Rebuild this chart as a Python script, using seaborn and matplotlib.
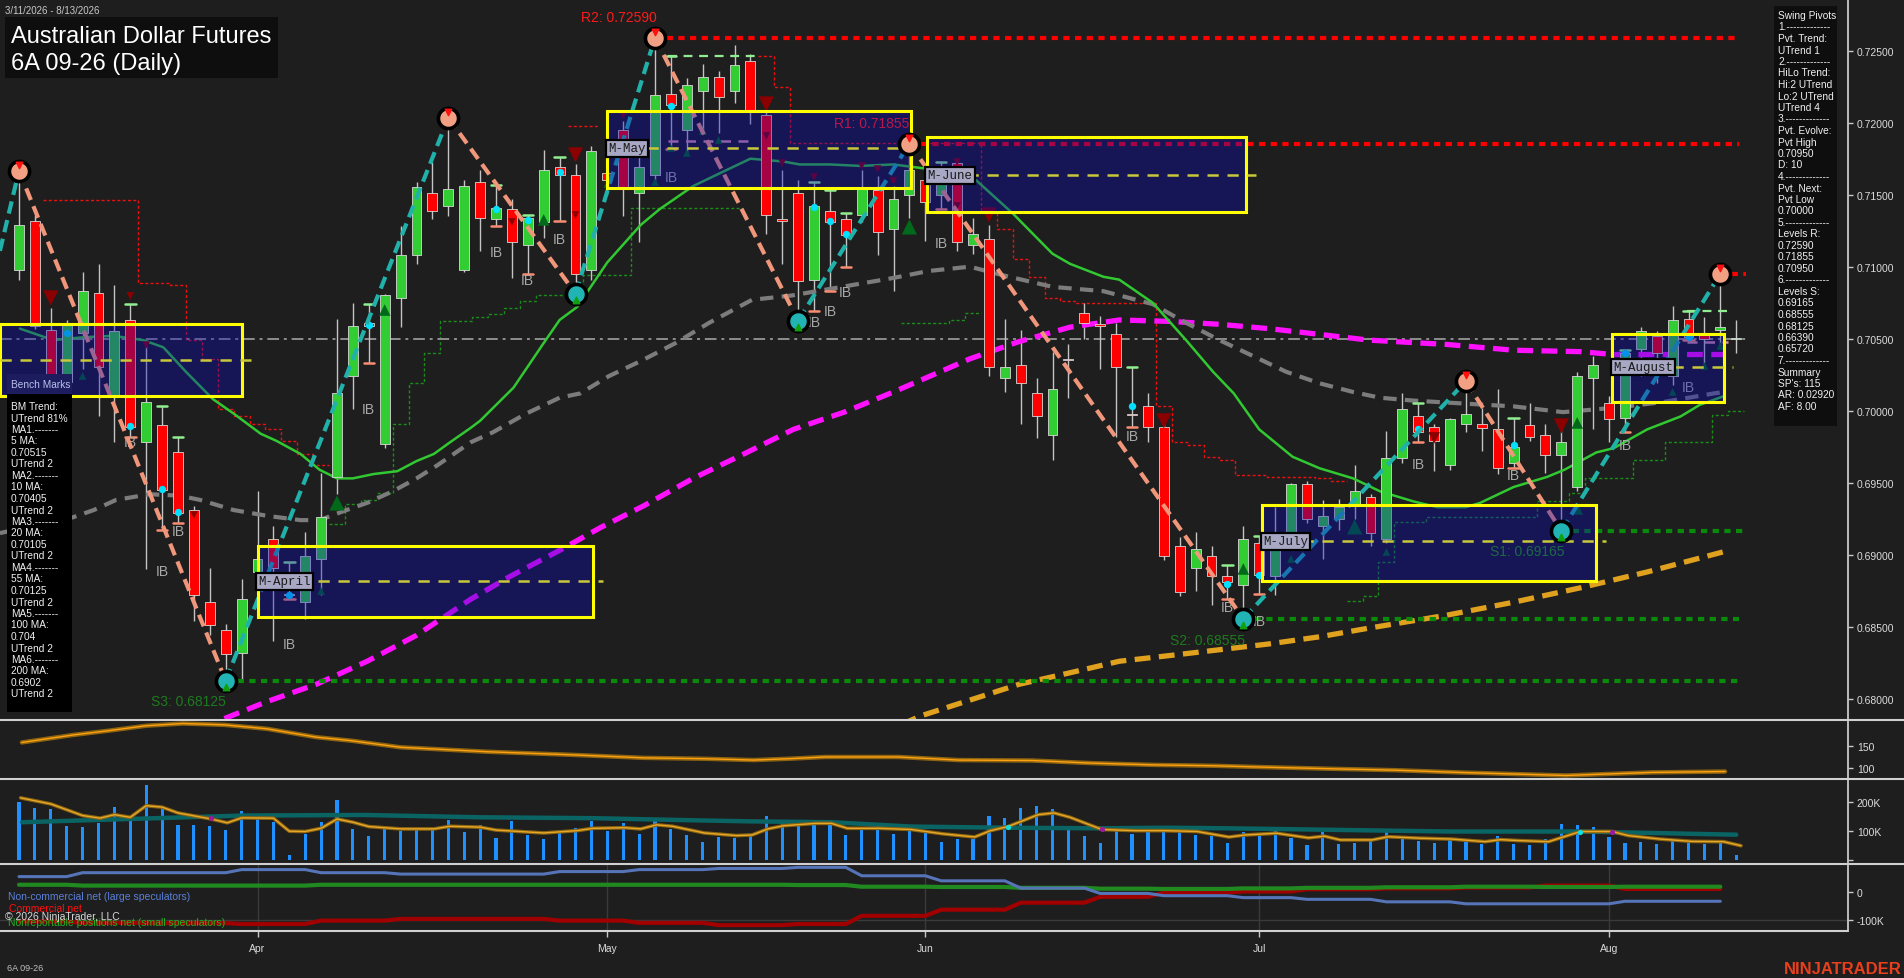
import numpy as np
import matplotlib
matplotlib.use("Agg")
import matplotlib.pyplot as plt
import seaborn as sns
from matplotlib.patches import Rectangle
from matplotlib.lines import Line2D

# ====================== DATA ======================
title_lines = ["Australian Dollar Futures", "6A 09-26 (Daily)"]
date_range_text = "3/11/2026 - 8/13/2026"
month_labels = ["Apr", "May", "Jun", "Jul", "Aug"]
month_idx = [15, 37, 57, 78, 100]
price_ticks = [0.680, 0.685, 0.690, 0.695, 0.700, 0.705, 0.710, 0.715, 0.720, 0.725]

opens = [.7098,.7132,.7056,.7020,.7054,.7082,.7010,.7063,.6978,.6990,
         .6971,.6931,.6867,.6848,.6832,.6888,.6911,.6873,.6867,.6897,
         .6954,.7024,.7061,.6977,.7078,.7108,.7151,.7142,.7098,.7159,
         .7133,.7140,.7115,.7131,.7169,.7164,.7098,.7165,.7195,.7151,
         .7164,.7220,.7195,.7222,.7232,.7222,.7243,.7205,.7133,.7151,
         .7091,.7139,.7133,.7136,.7153,.7126,.7150,.7160,.7150,.7172,
         .7115,.7119,.7023,.7032,.7012,.6983,.7036,.7068,.7060,.7053,
         .6998,.7003,.6989,.6906,.6891,.6899,.6885,.6879,.6908,.6885,
         .6916,.6949,.6920,.6925,.6934,.6940,.6911,.6967,.6996,.6989,
         .6962,.6991,.6991,.6987,.6964,.6990,.6983,.6969,.6947,.7023,
         .7005,.6995,.7043,.7052,.7024,.7064,.7054,.7056,.7050]
highs = [.7167,.7136,.7071,.7063,.7096,.7102,.7087,.7074,.7049,.7003,
         .6982,.6934,.6891,.6852,.6883,.6944,.6920,.6895,.6916,.6957,
         .7064,.7075,.7074,.7081,.7128,.7159,.7173,.72035,.7160,.7167,
         .7157,.7147,.7136,.7181,.7176,.7171,.7184,.7190,.7201,.7179,
         .72590,.7246,.7231,.7241,.7236,.7254,.7248,.7208,.7167,.7160,
         .7159,.7153,.7137,.7167,.7163,.7156,.71855,.7170,.7173,.7173,
         .7134,.7129,.7064,.7056,.7023,.7041,.7046,.7075,.7066,.7061,
         .7030,.7012,.6995,.6912,.6916,.6906,.6893,.6920,.6913,.6933,
         .6950,.6951,.6938,.6939,.6962,.6942,.6986,.7012,.7005,.6991,
         .6995,.70205,.7002,.7015,.6995,.7005,.6991,.6987,.7027,.7038,
         .7010,.7042,.7058,.7055,.7073,.7069,.7065,.70950,.7063]
lows = [.7091,.7057,.7000,.7005,.7029,.6996,.6978,.6982,.6890,.6917,
        .6922,.6854,.6844,.68125,.6813,.6885,.6840,.6869,.6855,.6872,
        .6942,.7001,.7033,.6974,.7058,.7102,.7133,.7135,.7096,.7111,
        .7128,.7092,.7095,.7120,.7132,.70813,.7091,.7150,.7135,.7117,
        .7159,.7182,.7179,.7193,.7193,.7214,.7199,.7123,.7102,.70625,
        .7069,.7083,.7100,.7131,.7108,.7083,.7134,.7118,.7140,.7111,
        .7109,.7024,.7013,.6991,.6981,.6966,.7009,.7050,.7029,.6982,
        .6989,.6978,.6896,.6871,.6875,.6865,.6869,.68555,.6873,.6872,
        .6912,.6922,.6897,.6917,.6925,.6906,.6908,.6964,.6978,.6958,
        .6959,.6985,.6972,.6956,.6960,.6979,.6957,.69165,.6944,.6987,
        .6978,.6985,.7024,.7019,.7018,.7049,.7033,.7043,.7040]
closes = [.7129,.7059,.7015,.7061,.7083,.7030,.7055,.6989,.7006,.6945,
          .6929,.6872,.6851,.6831,.6869,.6897,.6891,.6872,.6899,.6926,
          .7012,.7059,.7059,.7080,.7108,.7155,.7139,.7154,.7156,.7134,
          .7141,.7117,.7134,.7167,.7164,.7095,.7180,.7160,.7154,.7169,
          .7219,.7212,.7226,.7232,.7218,.7240,.7208,.7136,.7132,.7090,
          .7142,.7131,.7122,.7154,.7124,.7147,.7167,.7145,.7160,.7117,
          .7123,.7030,.7030,.7019,.6996,.7015,.7035,.7061,.7059,.7030,
          .6997,.6989,.6899,.6874,.6904,.6885,.6881,.6911,.6886,.6913,
          .6949,.6925,.6927,.6933,.6944,.6915,.6967,.7001,.6985,.6979,
          .6994,.6998,.6988,.6960,.6975,.6982,.6969,.6978,.7024,.7032,
          .6994,.7040,.7055,.7040,.7063,.7051,.7050,.7058,.7050]

# moving averages (bar index, price)
ma20_x = [0.06,2.16,4.05,5.93,7.82,9.08,10.5,12.2,13.5,15.2,16.2,17.7,18.9,20.0,21.0,22.3,23.8,25.0,26.1,27.1,28.4,
          29.0,31.1,33.0,34.0,35.1,37.0,39.1,40.3,42.4,44.1,46.0,48.1,49.1,51.0,52.9,55.0,57.1,
          58.8,60.2,62.5,65.0,66.1,68.2,69.2,71.3,73.4,75.1,76.4,78.0,80.1,81.8,83.9,
          85.6,87.7,89.2,91.0,91.9,94.0,96.1,97.2,98.2,99.2,100.3,102.4,104.5,105.7,107.2]
ma20_y = [.7057,.7049,.7051,.7052,.7049,.7044,.7027,.7008,.6998,.6984,.6979,.6970,.6959,.6953,.6953,.6956,.6958,.6965,.6970,.6978,.6988,
          .6993,.7016,.7047,.7063,.7072,.7103,.7129,.7140,.7156,.7165,.7175,.7173,.7171,.7171,.7170,.7171,.7168,
          .7165,.7160,.7137,.7109,.7102,.7093,.7091,.7075,.7049,.7027,.7012,.6987,.6968,.6960,.6953,
          .6944,.6937,.6933,.6933,.6936,.6947,.6954,.6959,.6965,.6971,.6974,.6987,.6996,.7004,.7010]
ma55_x = [-1.2,3.4,4.7,6.1,8.2,10.1,11.4,13.5,15.6,17.7,18.9,20.6,21.9,23.5,25.0,26.3,28.4,
          29.8,31.9,34.0,35.3,37.1,39.2,41.3,43.4,46.1,48.6,50.7,52.8,54.9,57.2,
          59.8,61.9,65.0,68.2,71.3,73.4,75.5,77.6,79.7,81.8,83.9,
          85.6,87.7,90.8,94.0,97.1,100.3,103.4,106.6,107.2]
ma55_y = [.6915,.6926,.6931,.6938,.6942,.6941,.6938,.6931,.6927,.6924,.6924,.6931,.6936,.6944,.6953,.6962,.6978,
          .6985,.6998,.7009,.7012,.7024,.7035,.7047,.7061,.7077,.7080,.7084,.7088,.7092,.7097,
          .7100,.7094,.7086,.7083,.7074,.7061,.7049,.7038,.7027,.7019,.7013,
          .7009,.7007,.7005,.7003,.6999,.7002,.7006,.7012,.7013]
ma100_x = [11.5,13.1,15.6,18.7,21.9,25.0,28.4,30.9,34.0,36.6,39.3,42.4,45.6,48.7,51.9,55.0,57.3,
           59.8,62.9,66.1,69.2,72.4,75.5,78.6,81.8,84.9,89.8,94.0,98.2,100.3,104.5,107.2]
ma100_y = [.6780,.6787,.6798,.6810,.6826,.6844,.6869,.6885,.6903,.6919,.6934,.6953,.6970,.6987,.6999,.7013,.7024,
           .7036,.7048,.7058,.7063,.7062,.7060,.7057,.7053,.7049,.7046,.7042,.7041,.7039,.7039,.7039]
ma200_x = [55.5,56.7,59.8,62.9,66.1,69.2,72.4,75.5,78.6,81.8,84.9,89.8,94.0,98.2,102.4,107.2]
ma200_y = [.6782,.6788,.6799,.6810,.6818,.6826,.6830,.6834,.6838,.6843,.6849,.6858,.6867,.6877,.6888,.6902]

# swing pivots
piv_idx = [0, 13, 27, 35, 40, 49, 56, 77, 91, 97, 107]
piv_px = [.71667, .68125, .72035, .70813, .72590, .70625, .71855, .68555, .70205, .69165, .70950]
lead_in = (-1.2, .7111)

# value-area boxes: start idx, end idx, top, bottom, mid, label
box_start = [-1.2, 15.0, 37.0, 57.1, 78.2, 100.2]
box_end = [14.0, 36.1, 56.1, 77.2, 99.2, 107.2]
box_top = [.70603, .69062, .72084, .71899, .69347, .70531]
box_bot = [.70101, .68566, .71548, .71381, .68820, .70060]
box_mid = [.70355, .68814, .71821, .71635, .69093, .70302]
box_label = ["", "M-April", "M-May", "M-June", "M-July", "M-August"]

# stop step lines (start bar, end bar, value)
red_stop_seg = [(2,7,.7146),(8,9,.7089),(10,10,.7087),(11,11,.7049),(12,12,.7036),(13,13,.7001),(14,14,.6996),
                (15,15,.6991),(16,16,.6987),(17,17,.6979),(18,18,.6970),(19,19,.6962),(35,36,.7198),
                (47,47,.7246),(48,48,.7225),(49,60,.7186),(61,61,.7138),(62,62,.7126),(63,63,.7105),(64,64,.7093),
                (65,65,.7078),(66,66,.7076),(67,71,.7075),(72,72,.7003),(73,73,.6978),(74,74,.6976),(75,75,.6968),
                (76,76,.6966),(77,78,.6955),(79,81,.6954),(82,82,.6953),(83,83,.6951)]
green_stop_seg = [(20,20,.6921),(21,21,.6935),(22,22,.6938),(23,23,.6943),(24,24,.6991),(25,25,.7019),(26,26,.7040),
                  (27,28,.7062),(29,29,.7065),(30,30,.7067),(31,31,.7071),(32,32,.7076),(33,35,.7080),(36,38,.7094),
                  (39,45,.7141),(56,58,.7061),(59,59,.7063),(60,60,.7068),(84,84,.6868),(85,85,.6871),(86,86,.6895),
                  (87,88,.6923),(89,95,.6926),(96,97,.6937),(98,98,.6943),(99,101,.6953),(102,103,.6966),
                  (104,106,.6978),(107,107,.6997),(108,108,.7000)]

# inside-bar markers
ib_idx = [7, 9, 10, 17, 22, 30, 32, 34, 41, 50, 51, 52, 58, 70, 76, 78, 88, 94, 101, 105]
ib_lbl_px = [.69783,.68887,.69165,.68380,.70011,.71102,.70908,.71193,.71623,.70616,.70692,.70824,.71165,
             .69825,.68637,.68540,.69630,.69554,.69762,.70165]
dot_idx = [3, 7, 9, 10, 17, 22, 30, 32, 34, 41, 50, 51, 52, 70, 76, 78, 88, 94, 101, 105]
dot_px = [.70540,.69894,.69456,.69297,.68720,.70595,.71401,.71325,.71658,.72116,.71415,.71318,.71227,
          .70033,.68797,.68859,.69873,.69762,.70401,.70512]
tri_dn_idx = [2, 7, 8, 11, 31, 35, 35, 38, 47, 47, 48, 50, 53, 54, 55, 59, 59, 61, 72, 89, 97]
tri_dn_px = [.70783,.70797,.70456,.69276,.71311,.71776,.71359,.72053,.72130,.71908,.71720,.71623,.71699,
             .71678,.71595,.71727,.71422,.71359,.69929,.69811,.69894]
tri_dn_sz = [120,30,30,30,30,120,30,30,120,30,30,30,30,30,30,30,30,120,120,70,120]
tri_up_idx = [4, 19, 20, 23, 33, 37, 40, 41, 42, 43, 44, 49, 56, 77, 80, 84, 86, 98, 98, 104, 106, 107]
tri_up_px = [.70241,.68748,.69359,.70699,.71325,.71575,.71588,.71824,.71790,.71942,.71880,.70582,.71276,
             .68901,.68970,.69193,.69019,.69915,.69318,.70130,.70311,.70450]
tri_up_sz = [30,30,120,70,70,30,30,30,30,30,30,30,120,70,30,120,30,70,70,30,30,30]

# sub panel 2 (oscillator)
p2_x = [0.18,3.4,5.7,8.0,10.3,12.9,15.6,18.7,20.9,24.0,29.4,34.7,39.3,43.1,46.2,48.4,50.7,55.3,59.1,63.7,
        67.5,71.4,75.2,78.2,82.8,86.6,90.5,94.3,97.3,99.6,102.7,107.3]
p2_y = [158,175,185,196,201,198,189,170,162,147,137,130,123,121,118,121,125,125,118,117,
        111,107,105,102,98,95,90,86,83,86,90,92]

# volume (thousands)
volume_k = [199,179,176,117,114,128,183,139,259,179,
            121,121,117,103,169,152,131,17,90,131,
            207,107,83,107,100,103,107,138,97,121,
            76,134,86,72,99,110,134,101,128,90,
            145,107,86,62,80,76,86,152,138,118,
            130,126,86,103,110,90,110,93,62,72,
            72,152,145,179,186,176,114,83,59,107,
            90,107,99,97,86,83,59,97,93,103,
            76,52,97,55,59,69,103,83,66,59,
            76,62,55,83,55,52,72,124,121,114,
            79,59,62,55,64,59,55,61,17]
vol_slow_x = [0.2,14.1,21.7,29.0,36.1,43.0,46.0,51.1,56.1,62.2,68.1,72.1,76.1,81.1,86.1,90.1,94.2,98.2,108.0]
vol_slow_k = [130,153,155,147,144,136,133,130,115,111,109,111,109,105,101,98,98,98,87]
vol_fast_x = [0.1,2.0,4.0,5.1,6.0,7.0,8.0,9.0,10.0,12.1,13.1,14.0,16.0,17.0,18.0,19.0,20.0,21.0,22.0,24.0,26.1,27.1,
              29.0,30.0,33.0,35.1,36.1,38.1,39.1,40.1,41.1,43.1,45.1,46.1,47.1,48.1,50.1,51.1,52.1,54.1,56.1,58.1,
              60.1,61.1,62.2,64.1,65.1,66.1,68.1,70.2,72.1,74.1,76.1,77.1,79.1,81.1,82.1,83.1,85.1,86.1,88.1,90.1,
              92.2,93.2,94.2,96.2,98.2,100.2,101.2,103.2,105.2,107.2,108.3]
vol_fast_k = [214,193,153,144,156,147,187,182,162,141,128,145,144,99,98,109,141,130,115,107,107,116,
              113,103,93,101,109,111,107,121,116,93,84,86,107,118,126,126,109,109,105,90,
              79,101,115,156,162,147,105,101,101,98,79,86,92,76,82,69,69,80,75,72,
              63,70,67,63,98,98,84,72,64,63,49]

# COT weekly (thousands of contracts)
cot_week_start = [0,4,9,14,19,24,29,34,39,44,49,53,58,63,68,72,77,81,86,91,96,101]
cot_last_bar = 107
cot_noncomm = [55,69,69,80,69,64,64,73,80,84,88,58,40,14,-5,-13,-20,-26,-35,-42,-42,-33]
cot_nonrep = [26,23,23,23,26,26,26,26,26,26,25,19,18,15,12,11,13,15,17,19,18,19]
cot_comm = [-105,-110,-111,-114,-102,-96,-96,-102,-110,-118,-114,-85,-63,-38,-17,-2,2,10,13,16,23,11]

right_panel_lines = ["Swing Pivots","1.-------------","Pvt. Trend:","UTrend 1","2.-------------","HiLo Trend:",
                     "Hi:2 UTrend","Lo:2 UTrend","UTrend 4","3.-------------","Pvt. Evolve:","Pvt High","0.70950",
                     "D: 10","4.-------------","Pvt. Next:","Pvt Low","0.70000","5.-------------","Levels R:",
                     "0.72590","0.71855","0.70950","6.-------------","Levels S:","0.69165","0.68555","0.68125",
                     "0.66390","0.65720","7.-------------","Summary","SP's: 115","AR: 0.02920","AF: 8.00"]
left_panel_lines = ["BM Trend:","UTrend 81%","MA1.-------","5 MA:","0.70515","UTrend 2","MA2.-------","10 MA:",
                    "0.70405","UTrend 2","MA3.-------","20 MA:","0.70105","UTrend 2","MA4.-------","55 MA:",
                    "0.70125","UTrend 2","MA5.-------","100 MA:","0.704","UTrend 2","MA6.-------","200 MA:",
                    "0.6902","UTrend 2"]

# ====================== STYLE ======================
W, H = 1904, 979
BG = "#1e1e1e"
sns.set_theme(style="dark", rc={"axes.facecolor": BG, "figure.facecolor": BG})
plt.rcParams["font.family"] = ["Liberation Sans", "DejaVu Sans"]

fig = plt.figure(figsize=(W / 100, H / 100), dpi=100, facecolor=BG)
AXR = 1848

def fx(x): return x / W
def fy(y): return 1 - y / H

def panel(top, bot):
    a = fig.add_axes([0, fy(bot), AXR / W, (bot - top) / H])
    a.set_facecolor(BG)
    a.grid(False)
    for s in ["left", "top", "bottom"]:
        a.spines[s].set_visible(False)
    a.spines["right"].set_color("#c8c8c8")
    a.spines["right"].set_linewidth(1.3)
    a.yaxis.tick_right()
    a.tick_params(axis="y", which="both", right=True, left=False, direction="out", length=3.6, width=1,
                  color="#c8c8c8", labelcolor="#dcdcdc", labelsize=7.5, pad=2.8)
    a.tick_params(axis="x", bottom=False, labelbottom=False)
    return a

ax = panel(0, 721)
ax2 = panel(721, 780)
ax3 = panel(780, 865)
ax4 = panel(865, 932)
XL = (-1.195, 115.03)
for a in (ax, ax2, ax3, ax4):
    a.set_xlim(*XL)

def sline(a, xs, ys, color, lw, dashes=None, z=3):
    n0 = len(a.lines)
    sns.lineplot(x=list(xs), y=list(ys), ax=a, color=color, linewidth=lw, sort=False,
                 estimator=None, errorbar=None, zorder=z)
    ln = a.lines[n0]
    if dashes is not None:
        ln.set_dashes(dashes)
    ln.set_dash_capstyle("butt")
    ln.set_solid_capstyle("round")
    return ln

def step_plot(a, segs, color, lw, dashes, z):
    vals = {}
    for s, e, v in segs:
        for i in range(s, e + 1):
            vals[i] = v
    keys = sorted(vals)
    runs, cur, prev = [], None, None
    for i in keys:
        if prev is None or i != prev + 1:
            if cur:
                runs.append(cur)
            cur = ([], [])
        cur[0].extend([i - 0.5, i + 0.5])
        cur[1].extend([vals[i], vals[i]])
        prev = i
    if cur:
        runs.append(cur)
    for xs, ys in runs:
        a.plot(xs, ys, color=color, lw=lw, dashes=dashes, zorder=z)

# ====================== MAIN PANEL ======================
n = len(opens)
idx = np.arange(n)
o = np.array(opens); c = np.array(closes); hi = np.array(highs); lo = np.array(lows)
up = c >= o
ax.vlines(idx, lo, hi, colors="#c4c4c4", lw=1.0, zorder=3)
body_b = np.minimum(o, c)
body_h = np.maximum(np.abs(c - o), 0.00006)
ax.bar(idx[up], body_h[up], bottom=body_b[up], width=0.62, color="#32cd32", edgecolor="#d8d8d8",
       linewidth=0.6, zorder=4)
ax.bar(idx[~up], body_h[~up], bottom=body_b[~up], width=0.62, color="#ff0000", edgecolor="#d8d8d8",
       linewidth=0.6, zorder=4)

# step stops
step_plot(ax, red_stop_seg, "#e81010", 1.0, (2.2, 1.6), 2.5)
step_plot(ax, green_stop_seg, "#1a8c1a", 1.0, (2.2, 1.6), 2.5)

# horizontal dash-dot line
ax.plot([-1.2, 108.6], [.70497, .70497], color="#8e8e8e", lw=1.4, dashes=(6, 2.5, 1.5, 2.5), zorder=2.6)

# moving averages
sline(ax, ma200_x, ma200_y, "#e0a21e", 3.8, (3.0, 1.6), 3.2)
sline(ax, ma100_x, ma100_y, "#ff10ff", 3.8, (3.0, 1.6), 3.2)
sline(ax, ma55_x, ma55_y, "#7c7c7c", 3.0, (3.2, 2.0), 3.2)
sline(ax, ma20_x, ma20_y, "#32c832", 1.8, None, 3.3)

# level lines
lev_red = dict(color="#ff0000", lw=3.0, dashes=(1.5, 1.3), zorder=3.5)
lev_grn = dict(color="#0a8a0a", lw=3.0, dashes=(1.5, 1.3), zorder=3.5)
ax.plot([40, 108.2], [.72590, .72590], **lev_red)
ax.plot([56, 108.2], [.71855, .71855], **lev_red)
ax.plot([107, 108.6], [.70950, .70950], **lev_red)
ax.plot([13, 108.2], [.68125, .68125], **lev_grn)
ax.plot([77, 108.2], [.68555, .68555], **lev_grn)
ax.plot([97, 108.6], [.69165, .69165], **lev_grn)

# small range lines
ax.plot([40.8, 46.3], [.7246, .7246], color="#90ee90", lw=1.6, dashes=(4, 3), zorder=3.6)
ax.plot([40.8, 46.3], [.7187, .7187], color="#d890a0", lw=1.8, dashes=(4, 3), zorder=3.6)
ax.plot([104.9, 107.5], [.7069, .7069], color="#90ee90", lw=1.6, dashes=(4, 3), zorder=3.6)
ax.plot([104.9, 107.5], [.7048, .7048], color="#d890a0", lw=1.8, dashes=(4, 3), zorder=3.6)

# IB ticks at high/low
for i in ib_idx:
    ax.plot([i - 0.33, i + 0.33], [highs[i], highs[i]], color="#90ee90", lw=1.8, zorder=4.5)
    ax.plot([i - 0.33, i + 0.33], [lows[i], lows[i]], color="#fa8c72", lw=1.8, zorder=4.5)

# markers
ax.scatter(tri_dn_idx, tri_dn_px, s=tri_dn_sz, marker="v", color="#8b0000", linewidths=0, zorder=4.6)
ax.scatter(tri_up_idx, tri_up_px, s=tri_up_sz, marker="^", color="#006a1a", linewidths=0, zorder=4.6)
ax.scatter(dot_idx, dot_px, s=28, color="#00e0ff", linewidths=0, zorder=4.7)
for i, p in zip(ib_idx, ib_lbl_px):
    ax.text(i, p, "IB", color="#a8a8a8", fontsize=10, ha="center", va="center", zorder=4.7)

# zigzag
legs_x = [lead_in[0]] + piv_idx
legs_y = [lead_in[1]] + piv_px
for k in range(len(legs_x) - 1):
    col = "#20b2aa" if legs_y[k + 1] > legs_y[k] else "#f0967a"
    sline(ax, [legs_x[k], legs_x[k + 1]], [legs_y[k], legs_y[k + 1]], col, 3.0, (3.0, 1.6), 4.8)

# value area boxes (semi transparent over candles)
for x0, x1, t, b, m, lab in zip(box_start, box_end, box_top, box_bot, box_mid, box_label):
    ax.add_patch(Rectangle((x0, b), x1 - x0, t - b, facecolor="#0a0abe", alpha=0.36, edgecolor="none", zorder=5))
    ax.add_patch(Rectangle((x0, b), x1 - x0, t - b, fill=False, edgecolor="#ffff00", lw=2.2, zorder=6))
    ax.plot([x0, x1 + 0.6], [m, m], color="#c8c83a", lw=1.8, dashes=(4.5, 3.5), zorder=6)
    if lab:
        ax.text(x0 + 0.05, m, lab, family=["Liberation Mono", "DejaVu Sans Mono"], fontsize=9, color="#1a1a1a",
                ha="left", va="center", zorder=8,
                bbox=dict(boxstyle="square,pad=0.18", facecolor="#a8a8c4", edgecolor="#000000", lw=1.6))

# pivot circles
for k, (i, p) in enumerate(zip(piv_idx, piv_px)):
    high = (k % 2 == 0)
    fc = "#f2a084" if high else "#22b4b4"
    ax.scatter([i], [p], s=210, color=fc, edgecolors="#000000", linewidths=2.6, zorder=9)
    if high:
        ax.scatter([i], [p + 0.00042], s=22, marker="v", color="#ff1010", zorder=9.5)
    else:
        ax.scatter([i], [p - 0.00042], s=22, marker="^", color="#10a010", zorder=9.5)

# level labels
ax.text(40.1, .72734, "R2: 0.72590", color="#ff1a1a", fontsize=10, ha="right", va="center", zorder=9)
ax.text(56.0, .72001, "R1: 0.71855", color="#b8184a", fontsize=10, ha="right", va="center", zorder=9)
ax.text(97.2, .69026, "S1: 0.69165", color="#1c6a44", fontsize=10, ha="right", va="center", zorder=9)
ax.text(77.1, .68411, "S2: 0.68555", color="#1e7a1e", fontsize=10, ha="right", va="center", zorder=9)
ax.text(13.0, .67984, "S3: 0.68125", color="#1e7a1e", fontsize=10, ha="right", va="center", zorder=9)

ax.set_ylim(0.67852, 0.72859)
ax.set_yticks(price_ticks)
ax.set_yticklabels([f"{v:.5f}" for v in price_ticks])

# ====================== PANEL 2 ======================
sline(ax2, p2_x, p2_y, "#8c6410", 3.2, None, 3)
sline(ax2, p2_x, p2_y, "#ffa010", 1.0, None, 4)
ax2.set_ylim(75, 209)
ax2.set_yticks([100, 150])
ax2.set_yticklabels(["100", "150"])

# ====================== PANEL 3 (volume) ======================
ax3.bar(idx, np.array(volume_k) * 1000, width=0.2, color="#1e90ff", edgecolor="none", linewidth=0, zorder=2)
sline(ax3, vol_slow_x, np.array(vol_slow_k) * 1000, "#0a6464", 3.2, None, 3)
sline(ax3, vol_fast_x, np.array(vol_fast_k) * 1000, "#8c6410", 2.6, None, 3.5)
sline(ax3, vol_fast_x, np.array(vol_fast_k) * 1000, "#e6a82a", 1.0, None, 3.6)
ax3.scatter([12.1, 68.1, 100.2], [146000, 105000, 98000], s=14, color="#9a1aa0", linewidths=0, zorder=4)
ax3.scatter([62.2, 98.2], [115000, 98000], s=14, color="#10e0e0", linewidths=0, zorder=4)
ax3.set_ylim(-14000, 279000)
ax3.set_yticks([0, 100000, 200000])
ax3.set_yticklabels(["", "100K", "200K"])

# ====================== PANEL 4 (COT) ======================
for m in month_idx:
    ax4.axvline(m, color="#3a3a3a", lw=1.0, zorder=1)
ax4.axhline(-100000, color="#3a3a3a", lw=1.0, zorder=1)
ends = [s - 1 for s in cot_week_start[1:]] + [cot_last_bar]

def cot_line(vals, color, lw, z):
    xs, ys = [], []
    for s, e, v in zip(cot_week_start, ends, vals):
        xs += [s, e]
        ys += [v * 1000, v * 1000]
    sline(ax4, xs, ys, color, lw, None, z)

cot_line(cot_comm, "#a00000", 3.0, 3)
cot_line(cot_nonrep, "#208a20", 3.0, 3.2)
cot_line(cot_noncomm, "#5674b8", 2.2, 3.4)
ax4.set_ylim(-139000, 100000)
ax4.set_yticks([-100000, 0])
ax4.set_yticklabels(["-100K", "0"])
ax4.set_xticks(month_idx)
ax4.set_xticklabels(month_labels)
ax4.tick_params(axis="x", bottom=True, labelbottom=True, direction="out", length=4, width=1,
                color="#c8c8c8", labelcolor="#dcdcdc", labelsize=7.5, pad=5)

# ====================== OVERLAYS (figure level) ======================
def frect(x0, y0, x1, y1, color, z=10):
    fig.add_artist(Rectangle((fx(x0), fy(y1)), (x1 - x0) / W, (y1 - y0) / H, transform=fig.transFigure,
                             facecolor=color, edgecolor="none", zorder=z))

def ftext(x, y, s, z=11, **kw):
    fig.text(fx(x), fy(y), s, zorder=z, **kw)

for yy, xe in [(721, W), (780, W), (865, W), (932, AXR)]:
    fig.add_artist(Line2D([0, xe / W], [fy(yy), fy(yy)], transform=fig.transFigure, color="#d0d0d0", lw=1.5, zorder=9))

# title
frect(5, 18, 278, 79, "#0e0e0e")
ftext(11, 43, title_lines[0], color="white", fontsize=17, va="baseline")
ftext(11, 70, title_lines[1], color="white", fontsize=17, va="baseline")
ftext(5, 11, date_range_text, color="#c8c8c8", fontsize=7, va="center")

# right info panel
frect(1774, 7, 1837, 427, "#0e0e0e")
for k, s in enumerate(right_panel_lines):
    ftext(1778, 16 + 11.5 * k, s, color="#f0f0f0", fontsize=7.3, va="center")

# left benchmarks panel
frect(7, 375, 72, 395, "#1c1c5e")
ftext(11, 385, "Bench Marks", color="#b8c0ec", fontsize=7.3, va="center")
frect(7, 395, 72, 713, "#000000")
for k, s in enumerate(left_panel_lines):
    ftext(11, 407 + 11.5 * k, s, color="#f0f0f0", fontsize=7.3, va="center")

# COT legend texts (stacked as in the source chart)
ftext(8, 897, "Non-commercial net (large speculators)", color="#5a80d8", fontsize=7.5, va="center")
ftext(9, 909, "Commercial net", color="#ff1010", fontsize=7.5, va="center")
ftext(8, 923, "Nonreportable positions net (small speculators)", color="#22b022", fontsize=7.5, va="center")
ftext(5, 917, "\u00a9 2026 NinjaTrader, LLC", color="#d8d8d8", fontsize=7.5, va="center", z=12)

# footer
ftext(7, 969, "6A 09-26", color="#c0c0c0", fontsize=6.5, va="center")
ftext(1902, 970, "NINJATRADER", color="#e8401c", fontsize=12, fontweight="bold", ha="right", va="center")

fig.savefig("out.png", dpi=100, facecolor=BG)
